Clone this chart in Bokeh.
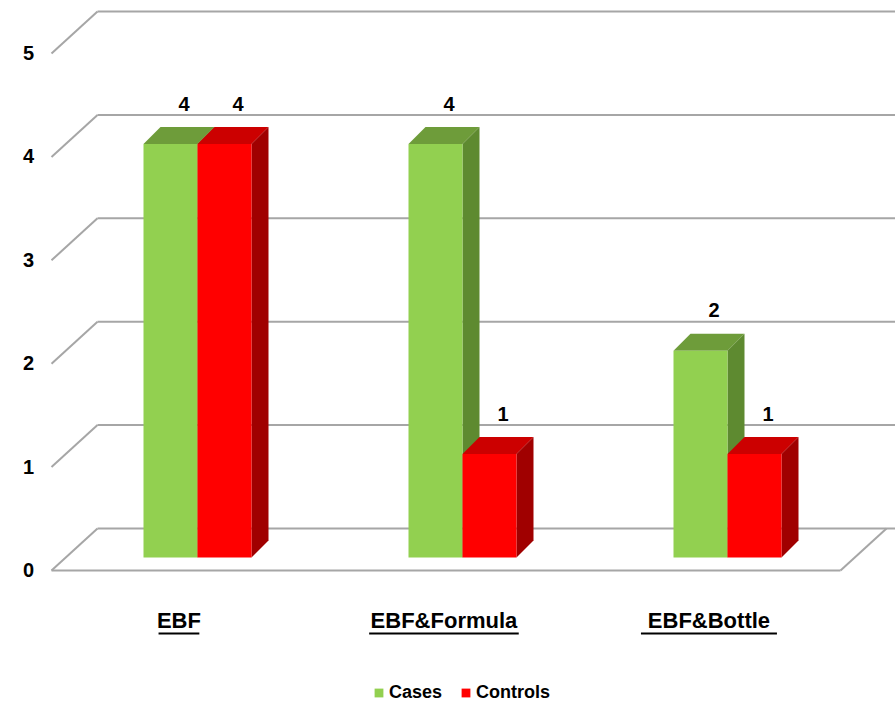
from bokeh.plotting import figure
from bokeh.models import Range1d, Legend, LegendItem
from bokeh.core.properties import value
from bokeh.embed import file_html
from bokeh.resources import INLINE

# ---------------- data ----------------
categories = ["EBF", "EBF&Formula", "EBF&Bottle"]
cases = [4, 4, 2]
controls = [4, 1, 1]
y_ticks = [0, 1, 2, 3, 4, 5]
series_names = ["Cases", "Controls"]

# ---------------- geometry (unit system) ----------------
W, H = 895, 706
PX_X = 265.0      # pixels per category step
PX_Y = 103.4      # pixels per value unit
X0_PX, Y0_PX = 197, 557

BW = 54 / PX_X            # bar width
BDX, BDY = 17 / PX_X, 17 / PX_Y   # bar depth offset
WDX, WDY = 46 / PX_X, 42 / PX_Y   # wall/floor depth offset
FRONT_Y = -13 / PX_Y      # value-0 front edge of the floor
WALL_X = -146 / PX_X      # front x of the left wall
FLOOR_X1 = 643 / PX_X     # right end of floor front edge
XMAX = (W - X0_PX) / PX_X

FONT = "Liberation Sans"

p = figure(width=W, height=H, output_backend="svg", toolbar_location=None,
           x_range=Range1d(-X0_PX / PX_X, XMAX),
           y_range=Range1d((Y0_PX - H) / PX_Y, Y0_PX / PX_Y),
           x_axis_location=None, y_axis_location=None, min_border=0)
p.grid.visible = False
p.outline_line_color = None
p.background_fill_color = "white"

GRID = "#A6A6A6"
# back-wall gridlines and left-wall diagonals
for t in y_ticks:
    fy = FRONT_Y + t
    p.segment(x0=[WALL_X + WDX], y0=[fy + WDY], x1=[XMAX], y1=[fy + WDY],
              line_color=GRID, line_width=2)
    p.segment(x0=[WALL_X], y0=[fy], x1=[WALL_X + WDX], y1=[fy + WDY],
              line_color=GRID, line_width=2)
# floor front edge and right edge
p.segment(x0=[WALL_X], y0=[FRONT_Y], x1=[FLOOR_X1], y1=[FRONT_Y],
          line_color=GRID, line_width=2)
p.segment(x0=[FLOOR_X1], y0=[FRONT_Y], x1=[FLOOR_X1 + WDX], y1=[FRONT_Y + WDY],
          line_color=GRID, line_width=2)

# y tick labels
p.text(x=[WALL_X - 0.087] * len(y_ticks),
       y=[FRONT_Y + t + 0.005 for t in y_ticks],
       text=[str(t) for t in y_ticks], text_font=value(FONT), text_font_style="bold",
       text_font_size="20px", text_align="center", text_baseline="middle",
       text_color="black")

series = [
    (cases, -BW, "#92D050", "#6E9C3A", "#5E8A30"),
    (controls, 0.0, "#FF0000", "#CC0000", "#A00000"),
]
legend_items = []
for (vals, off, c_front, c_top, c_side), name in zip(series, series_names):
    x_l = [i + off for i in range(len(vals))]
    x_r = [x + BW for x in x_l]
    tops_x = [[a, b, b + BDX, a + BDX] for a, b in zip(x_l, x_r)]
    tops_y = [[v, v, v + BDY, v + BDY] for v in vals]
    sides_x = [[b, b + BDX, b + BDX, b] for b in x_r]
    sides_y = [[0, BDY, v + BDY, v] for v in vals]
    p.patches(xs=tops_x, ys=tops_y, fill_color=c_top, line_color=None)
    p.patches(xs=sides_x, ys=sides_y, fill_color=c_side, line_color=None)
    r = p.quad(left=x_l, right=x_r, bottom=[0] * len(vals), top=vals,
               fill_color=c_front, line_color=None)
    legend_items.append(LegendItem(label=name, renderers=[r]))
    p.text(x=[(a + b) / 2 + BDX * 0.8 for a, b in zip(x_l, x_r)],
           y=[v + 0.39 for v in vals], text=[str(v) for v in vals],
           text_font=value(FONT), text_font_style="bold", text_font_size="20px",
           text_align="center", text_baseline="middle", text_color="black")

# category labels (underlined)
cat_x = [i - 0.07 for i in range(len(categories))]
LAB_Y = -63 / PX_Y
p.text(x=cat_x, y=[LAB_Y] * len(categories), text=categories,
       text_font=value(FONT), text_font_style="bold", text_font_size="22px",
       text_align="center", text_baseline="middle", text_color="black")
half_w = [len(c) * 13.6 / PX_X / 2 for c in categories]
p.segment(x0=[x - h for x, h in zip(cat_x, half_w)], y0=[LAB_Y - 13 / PX_Y] * len(categories),
          x1=[x + h for x, h in zip(cat_x, half_w)], y1=[LAB_Y - 13 / PX_Y] * len(categories),
          line_color="black", line_width=2)

legend = Legend(items=legend_items, orientation="horizontal", location=(373, 3),
                glyph_width=11, glyph_height=11, label_standoff=5, spacing=18,
                padding=0, margin=0, border_line_color=None, background_fill_alpha=0,
                label_text_font=FONT, label_text_font_style="bold",
                label_text_font_size="18px", label_text_color="black")
p.add_layout(legend, "center")

open("out.html", "w").write(file_html(p, INLINE))
